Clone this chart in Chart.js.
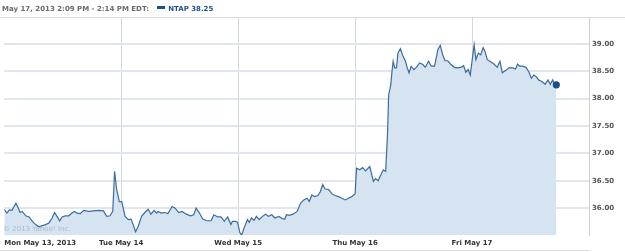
<!DOCTYPE html>
<html>
<head>
<meta charset="utf-8">
<script src="https://cdn.jsdelivr.net/npm/chart.js@4/dist/chart.umd.min.js"></script>
<style>
  html, body { margin: 0; padding: 0; background: #fff; }
  #wrap { position: relative; width: 625px; height: 252px; overflow: hidden; font-family: "DejaVu Sans", Verdana, sans-serif; }
  #c { position: absolute; left: 0; top: 0; }
  #hdr { position: absolute; left: 2px; top: 5px; font-size: 7px; font-weight: bold; color: #6b6b6b; white-space: nowrap; line-height: 9px; }
  #hdr .sw { display: inline-block; width: 8px; height: 3px; background: #1f4f8a; vertical-align: 2px; margin: 0 3px 0 8px; }
  #hdr .tk { color: #1f4f8a; }
  #topline { position: absolute; left: 0; top: 17px; width: 625px; height: 1px; background: #dcdcdc; }
  #botline { position: absolute; left: 0; top: 250px; width: 590px; height: 1px; background: #dcdcdc; }
  #wm { position: absolute; left: 3px; top: 225px; font-size: 7px; color: rgba(140,155,170,0.55); white-space: nowrap; }
</style>
</head>
<body>
<div id="wrap">
  <canvas id="c" width="625" height="252"></canvas>
  <div id="hdr">May 17, 2013 2:09 PM - 2:14 PM EDT:<span class="sw"></span><span class="tk">NTAP 38.25</span></div>
  <div id="topline"></div>
  <div id="botline"></div>
  <div id="wm">© 2013 Yahoo! Inc.</div>
</div>
<script>
// trading minutes since Mon May 13 09:30 (390 minutes per session)
const minutes = [
  0,9,17,26,39,46,53,60,72,83,94,105,116,127,138,149,160,168,176,185,193,204,215,226,234,243,254,265,281,298,315,331,342,353,362,368,375,384,
  392,403,414,423,430,438,447,458,469,480,489,500,508,513,524,535,546,560,570,582,593,607,621,632,640,651,662,676,690,699,712,723,734,745,756,761,772,
  778,786,792,800,811,817,825,833,841,850,861,872,881,892,903,916,927,936,941,951,963,977,988,999,1010,1017,1026,1035,1046,1054,1062,1070,1082,1093,1103,1115,1126,1137,1148,1159,1170,
  1175,1186,1195,1205,1219,1231,1238,1247,1256,1264,1272,1278,1282,1289,1293,1297,1302,1308,1313,1321,1330,1338,1344,1350,1357,1366,1374,1385,1396,1404,1415,1424,1435,1446,1454,1462,1470,1479,1490,1501,1512,1523,1532,1539,1547,1554,
  1567,1573,1581,1589,1597,1603,1611,1622,1633,1644,1653,1661,1672,1683,1696,1705,1712,1718,1729,1740,1749,1758,1766,1774,1782,1793,1804,1813,1821,1829,1835,1841
];
const prices = [
  35.98,35.91,35.97,35.96,36.09,36.01,35.92,35.94,35.86,35.84,35.76,35.70,35.66,35.68,35.70,35.73,35.82,35.92,35.85,35.77,35.84,35.86,35.86,35.91,35.94,35.91,35.90,35.96,35.94,35.95,35.96,35.95,35.85,35.86,35.94,36.67,36.34,36.12,
  36.12,35.85,35.79,35.80,35.70,35.57,35.67,35.85,35.92,35.98,35.89,35.96,35.91,35.94,35.91,35.92,35.90,36.03,36.00,35.92,35.94,35.89,35.86,35.88,36.00,35.91,35.80,35.77,35.77,35.88,35.84,35.84,35.76,35.84,35.70,35.76,35.76,
  35.74,35.55,35.51,35.64,35.79,35.74,35.82,35.78,35.85,35.79,35.85,35.89,35.85,35.88,35.82,35.85,35.81,35.80,35.88,35.87,35.89,35.94,36.09,36.15,36.18,36.12,36.24,36.21,36.23,36.30,36.43,36.35,36.34,36.26,36.23,36.21,36.18,36.15,36.18,36.21,36.26,
  36.73,36.70,36.74,36.68,36.76,36.49,36.54,36.50,36.61,36.70,36.67,37.34,38.07,38.25,38.49,38.68,38.56,38.56,38.83,38.91,38.77,38.68,38.56,38.47,38.59,38.53,38.57,38.65,38.62,38.57,38.68,38.59,38.59,38.89,38.97,38.80,38.69,38.69,38.62,38.57,38.56,38.57,38.60,38.48,38.53,38.43,
  38.98,38.71,38.83,38.80,38.93,38.86,38.71,38.67,38.63,38.57,38.68,38.47,38.51,38.56,38.56,38.54,38.63,38.59,38.59,38.57,38.49,38.37,38.43,38.40,38.34,38.31,38.26,38.34,38.26,38.34,38.25,38.25
];
const dayStarts = [0, 390, 780, 1170, 1560, 1950];
const dayLabels = ["Mon May 13, 2013", "Tue May 14", "Wed May 15", "Thu May 16", "Fri May 17", ""];
const yTicks = [36.0, 36.5, 37.0, 37.5, 38.0, 38.5, 39.0];

const points = minutes.map((m, i) => ({ x: m, y: prices[i] }));
const last = points.length - 1;

new Chart(document.getElementById('c'), {
  type: 'line',
  data: {
    datasets: [{
      data: points,
      borderColor: '#3d6c9c',
      borderWidth: 1.2,
      backgroundColor: '#d5e4f0',
      fill: 'start',
      tension: 0,
      pointRadius: ctx => ctx.dataIndex === last ? 3 : 0,
      pointBackgroundColor: '#1f4f8a',
      pointBorderColor: '#1f4f8a',
      pointHoverRadius: 0
    }]
  },
  options: {
    responsive: false,
    devicePixelRatio: 1,
    animation: false,
    events: [],
    layout: { padding: { top: 18, left: 0, right: 0, bottom: 2 } },
    plugins: { legend: { display: false }, tooltip: { enabled: false } },
    scales: {
      x: {
        type: 'linear', min: 0, max: 1950, position: 'bottom',
        afterBuildTicks: s => { s.ticks = dayStarts.map(v => ({ value: v })); },
        afterFit: s => { s.height = 15; },
        border: { display: false },
        grid: {
          drawTicks: false,
          lineWidth: 1,
          color: c => (c.tick && (c.tick.value === 0 || c.tick.value === 1950)) ? 'rgba(0,0,0,0)' : '#cfd8e1'
        },
        ticks: {
          align: 'inner',
          maxRotation: 0,
          autoSkip: false,
          padding: 4,
          color: '#333',
          font: { family: 'DejaVu Sans', size: 7, weight: 'bold' },
          callback: (v) => { const i = dayStarts.indexOf(v); return i >= 0 ? dayLabels[i] : ''; }
        }
      },
      y: {
        position: 'right', min: 35.51, max: 39.47,
        afterBuildTicks: s => { s.ticks = yTicks.map(v => ({ value: v })); },
        afterFit: s => { s.width = 36; },
        border: { display: true, color: '#d0d0d0', width: 1 },
        grid: { drawTicks: false, color: '#e0e6ed', lineWidth: 2 },
        ticks: {
          padding: 3,
          color: '#555',
          font: { family: 'DejaVu Sans', size: 7, weight: 'bold' },
          callback: v => Number(v).toFixed(2)
        }
      }
    }
  }
});
</script>
</body>
</html>
